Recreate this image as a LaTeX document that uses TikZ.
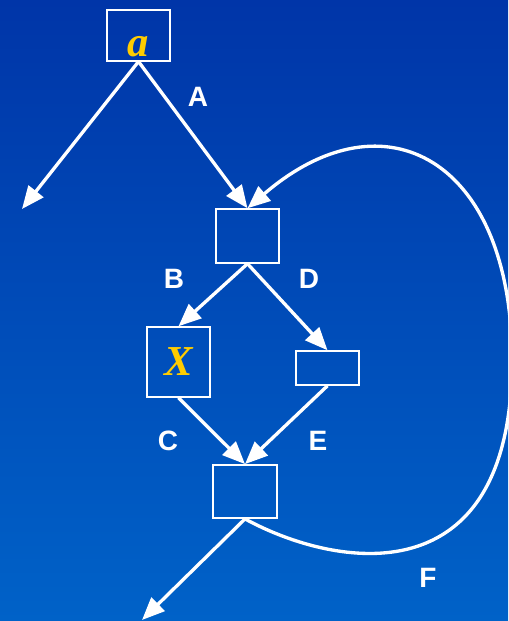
\documentclass[tikz,border=0pt]{standalone}
\usepackage{fontspec}
\setmainfont{Liberation Serif}
\setsansfont{Liberation Sans}
\usetikzlibrary{arrows.meta}

\definecolor{bgtop}{RGB}{0,53,168}
\definecolor{bgbottom}{RGB}{0,98,200}
\definecolor{gold}{RGB}{255,204,0}

\begin{document}
\begin{tikzpicture}[x=0.75pt, y=-0.75pt,
  blk/.style={draw=white, line width=1.1pt, minimum width=47pt, inner sep=0pt},
  var/.style={text=gold, font=\fontsize{32}{32}\selectfont\bfseries\itshape},
  flow/.style={draw=white, line width=2.5pt, -{Triangle[length=17pt, width=14pt]}},
  lbl/.style={text=white, font=\fontsize{21}{25}\selectfont\sffamily\bfseries}]
% Background
\useasboundingbox (0,0) rectangle (508,621);
\shade[top color=bgtop, bottom color=bgbottom] (0,0) rectangle (508,621);

% Blocks
\node[blk, var, minimum height=38pt, text height=32pt, text depth=0pt] (abox) at (138.5,35.5) {a};
\node[blk, minimum height=40.5pt] (head) at (247.5,236) {};
\node[blk, var, minimum height=52.5pt] (xbox) at (178.5,362) {X};
\node[blk, minimum height=25.5pt] (dbox) at (327.5,368) {};
\node[blk, minimum width=48pt, minimum height=40pt] (join) at (245,491.5) {};

% Loose ends
\coordinate (exitL) at (22,209);
\coordinate (exitB) at (142,620);
\coordinate (far) at (512,360);

% Edges
\draw[flow] (abox.south) -- (exitL);
\draw[flow] (abox.south) -- (head.north);
\draw[flow] (head.south) -- (xbox.north);
\draw[flow] (head.south) -- (dbox.north);
\draw[flow] (xbox.south) -- (join.north);
\draw[flow] (dbox.south) -- (join.north);
\draw[flow] (join.south) -- (exitB);
\draw[flow] (join.south) .. controls (335,568) and (512,600) .. (far)
  .. controls (512,160) and (385,90) .. (head.north);

% Labels
\node[lbl] (lA) at (198,97) {A};
\node[lbl] (lB) at (174,279) {B};
\node[lbl] (lD) at (309,279) {D};
\node[lbl] (lC) at (168,441) {C};
\node[lbl] (lE) at (318,441) {E};
\node[lbl] (lF) at (428,578) {F};
\end{tikzpicture}
\end{document}
